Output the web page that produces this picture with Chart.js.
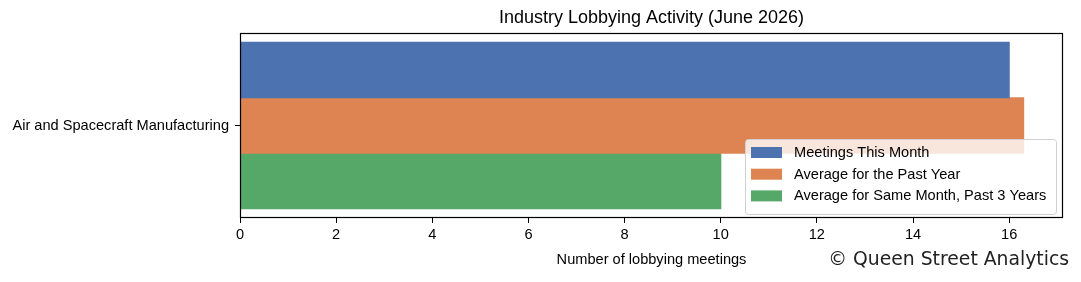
<!DOCTYPE html>
<html>
<head>
<meta charset="utf-8">
<script src="https://cdn.jsdelivr.net/npm/chart.js@4"></script>
<style>
  html, body { margin: 0; padding: 0; background: #fff; }
  #wrap { width: 1081px; height: 282px; position: relative; }
</style>
</head>
<body>
<div id="wrap"><canvas id="lobbyChart"></canvas></div>
<script>
// ---- data ----
var industries = ['Air and Spacecraft Manufacturing'];
var meetingsThisMonth = [16];
var avgPastYear = [16.3];
var avgSameMonth3Yrs = [10];
var seriesNames = ['Meetings This Month', 'Average for the Past Year', 'Average for Same Month, Past 3 Years'];
var seriesColors = ['#4c72b0', '#dd8452', '#55a868'];
var xTicks = [0, 2, 4, 6, 8, 10, 12, 14, 16];

var FONT = "'Liberation Sans', Arial, sans-serif";
var FS = 14.6;

// frame, title, legend and credit drawn on top
var extras = {
  id: 'extras',
  afterDraw: function (chart) {
    var c = chart.ctx, a = chart.chartArea;
    c.save();
    c.strokeStyle = '#000';
    c.lineWidth = 1.2;
    c.strokeRect(a.left + 0.5, a.top + 0.5, a.right - a.left - 1, a.bottom - a.top - 1);

    c.fillStyle = '#000';
    c.font = '18px ' + FONT;
    c.textAlign = 'center';
    c.textBaseline = 'middle';
    c.fillText('Industry Lobbying Activity (June 2026)', (a.left + a.right) / 2, 18);

    // legend box, lower right inside the plot
    var lx = 745, ly = 139, lw = 311, lh = 75;
    c.lineWidth = 1;
    c.fillStyle = 'rgba(255,255,255,0.8)';
    c.strokeStyle = '#d0d0d0';
    c.beginPath();
    c.roundRect(lx + 0.5, ly + 0.5, lw, lh, 3);
    c.fill();
    c.stroke();
    c.font = FS + 'px ' + FONT;
    c.textAlign = 'left';
    chart.data.datasets.forEach(function (ds, i) {
      var yy = ly + 13 + i * 21.7;
      c.fillStyle = ds.backgroundColor;
      c.fillRect(lx + 6, yy - 5, 31, 11);
      c.fillStyle = '#000';
      c.fillText(ds.label, lx + 49, yy + 1);
    });

    c.font = "18.8px 'DejaVu Sans', sans-serif";
    c.textAlign = 'right';
    c.fillStyle = '#222';
    c.fillText('\u00a9 Queen Street Analytics', 1069, 260);
    c.restore();
  }
};

new Chart(document.getElementById('lobbyChart'), {
  type: 'bar',
  data: {
    labels: industries,
    datasets: [
      { label: seriesNames[0], data: meetingsThisMonth, backgroundColor: seriesColors[0], borderColor: seriesColors[0] },
      { label: seriesNames[1], data: avgPastYear, backgroundColor: seriesColors[1], borderColor: seriesColors[1] },
      { label: seriesNames[2], data: avgSameMonth3Yrs, backgroundColor: seriesColors[2], borderColor: seriesColors[2] }
    ]
  },
  options: {
    indexAxis: 'y',
    responsive: true,
    maintainAspectRatio: false,
    animation: false,
    layout: { padding: { top: 33, right: 18, left: 0, bottom: 0 } },
    datasets: { bar: { categoryPercentage: 0.9, barPercentage: 1.0, borderWidth: 0, inflateAmount: 0.6 } },
    plugins: {
      legend: { display: false },
      title: { display: false },
      tooltip: { enabled: false }
    },
    scales: {
      x: {
        min: 0,
        max: 17.12,
        afterBuildTicks: function (s) { s.ticks = xTicks.map(function (v) { return { value: v }; }); },
        afterFit: function (s) { s.height = 64; },
        grid: { drawOnChartArea: false, tickLength: 5, color: '#000' },
        border: { display: false },
        ticks: { color: '#000', font: { family: FONT, size: FS }, padding: 3, maxRotation: 0 },
        title: { display: true, text: 'Number of lobbying meetings', color: '#000', font: { family: FONT, size: FS }, padding: { top: 4, bottom: 13 } }
      },
      y: {
        afterFit: function (s) { s.width = 240; },
        grid: { drawOnChartArea: false, tickLength: 5, color: '#000', offset: false },
        border: { display: false },
        ticks: { color: '#000', font: { family: FONT, size: FS }, padding: 6 }
      }
    }
  },
  plugins: [extras]
});
</script>
</body>
</html>
